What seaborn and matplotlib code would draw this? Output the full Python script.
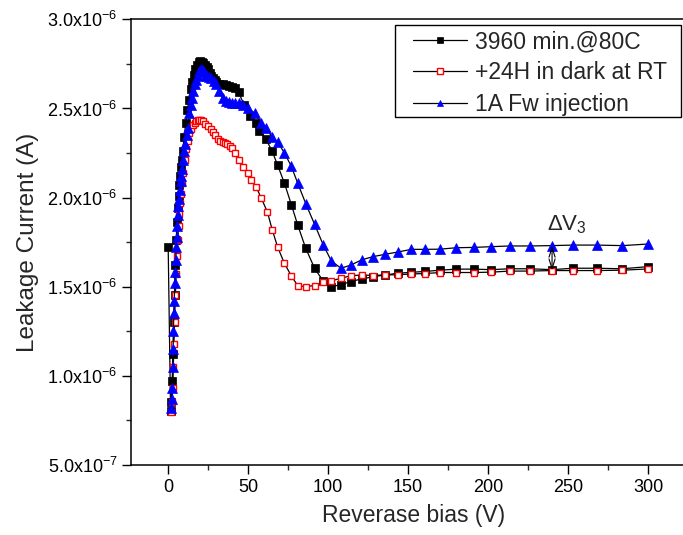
import matplotlib
matplotlib.use("Agg")
import matplotlib.pyplot as plt
import matplotlib.ticker as mticker
import matplotlib.patches as mpatches
import seaborn as sns
import numpy as np
import pandas as pd

# ---------------- data ----------------
v_black = [0, 1.5, 2.0, 2.5, 3.0, 3.5, 4.0, 4.5, 5.0, 5.5, 6.0, 6.5, 7.0, 7.5, 8.0, 8.5, 9.0,
           10, 11, 12, 13, 14, 15, 16, 17, 18, 19, 20, 21, 22, 23, 24, 25, 26, 27, 28, 29, 30,
           32, 34, 36, 38, 40, 42, 44, 47.5, 51, 55, 57, 61, 65, 68.5, 72.7, 77, 81,
           86, 91.5, 97, 102, 108, 114, 121, 128, 135.5, 143.5, 152, 160.5, 170, 180, 191,
           202, 213.5, 226, 240, 253, 268, 284, 300]
i_black = [1.72, 0.80, 0.85, 0.97, 1.12, 1.30, 1.45, 1.62, 1.76, 1.86, 1.94, 2.01, 2.07, 2.12, 2.17, 2.21, 2.26,
           2.34, 2.42, 2.49, 2.55, 2.61, 2.65, 2.69, 2.72, 2.745, 2.76, 2.765, 2.76, 2.755, 2.745, 2.735, 2.72, 2.70, 2.685, 2.67, 2.66, 2.65,
           2.64, 2.635, 2.63, 2.625, 2.62, 2.615, 2.59, 2.52, 2.46, 2.42, 2.375, 2.33, 2.26, 2.18, 2.08, 1.96, 1.845,
           1.715, 1.603, 1.53, 1.50, 1.51, 1.528, 1.543, 1.555, 1.565, 1.575, 1.58, 1.585, 1.592, 1.598, 1.598,
           1.595, 1.60, 1.60, 1.595, 1.603, 1.603, 1.60, 1.612]

v_red = [1.9, 2.4, 2.8, 3.2, 3.6, 4.0, 4.5, 5.0, 5.5, 6.0, 6.5, 7.0, 7.5, 8.1, 8.6, 9.2,
         10.2, 11.2, 12.3, 13.3, 14.4, 15.4, 16.5, 17.5, 18.5, 19.5, 20.5, 21.7, 23, 24.8,
         26.5, 28, 29.5, 31, 32.5, 34, 35.5, 37, 38.5, 40, 42, 44, 47, 50, 52, 55, 58, 62,
         65, 68.5, 72.7, 77, 81, 86, 91.5, 97, 102, 108, 114, 121, 128, 135.5, 143.5, 152,
         160.5, 170, 180, 191, 202, 213.5, 226, 240, 253, 268, 284, 300]
i_red = [0.795, 0.85, 0.93, 1.05, 1.18, 1.30, 1.45, 1.57, 1.67, 1.76, 1.84, 1.91, 1.97, 2.02, 2.08, 2.14,
         2.21, 2.27, 2.32, 2.36, 2.385, 2.405, 2.42, 2.43, 2.435, 2.437, 2.433, 2.427, 2.415, 2.40,
         2.385, 2.366, 2.35, 2.33, 2.318, 2.31, 2.305, 2.30, 2.29, 2.28, 2.25, 2.21, 2.17, 2.135, 2.10, 2.06, 2.00, 1.92,
         1.82, 1.72, 1.63, 1.56, 1.505, 1.50, 1.506, 1.523, 1.532, 1.547, 1.56, 1.566, 1.562, 1.566, 1.566, 1.571,
         1.573, 1.579, 1.579, 1.579, 1.581, 1.587, 1.587, 1.590, 1.590, 1.590, 1.592, 1.599]

v_blue = [1.9, 2.3, 2.6, 2.9, 3.1, 3.3, 3.5, 3.8, 4.1, 4.4, 4.7, 5.0, 5.3, 5.6, 6.0, 6.3, 6.7, 7.1, 7.7,
          8.1, 8.6, 9.2, 10.0, 10.8, 11.5, 12.3, 13.3, 14.2, 15.0, 15.8, 16.5, 17.5, 18.5, 19.5, 20.5,
          21.5, 22.5, 23.5, 24.5, 25.5, 27, 28.5, 30, 32, 34, 36, 38, 40, 42, 44, 47, 50, 54, 58, 61,
          65, 68.5, 72.7, 77, 81, 86, 91.5, 97, 102, 108, 114, 121, 128, 135.5, 143.5, 152, 160.5,
          170, 180, 191, 202, 213.5, 226, 240, 253, 268, 284, 300]
i_blue = [0.82, 0.87, 0.93, 1.05, 1.15, 1.25, 1.35, 1.42, 1.52, 1.58, 1.65, 1.72, 1.78, 1.84, 1.90, 1.95, 1.99, 2.04, 2.09,
          2.12, 2.16, 2.21, 2.26, 2.30, 2.35, 2.39, 2.475, 2.52, 2.56, 2.60, 2.635, 2.66, 2.68, 2.71, 2.72,
          2.715, 2.705, 2.69, 2.68, 2.675, 2.67, 2.655, 2.64, 2.60, 2.56, 2.54, 2.535, 2.53, 2.53, 2.53, 2.52, 2.50, 2.475, 2.42, 2.39,
          2.34, 2.31, 2.25, 2.175, 2.08, 1.966, 1.85, 1.733, 1.644, 1.603, 1.62, 1.65, 1.668, 1.681, 1.694, 1.709, 1.709,
          1.71, 1.718, 1.72, 1.724, 1.728, 1.728, 1.73, 1.733, 1.733, 1.73, 1.739]

labels = ["3960 min.@80C", "+24H in dark at RT", "1A Fw injection"]
x_ticks = [0, 50, 100, 150, 200, 250, 300]
y_ticks = [5.0e-7, 1.0e-6, 1.5e-6, 2.0e-6, 2.5e-6, 3.0e-6]
dv_x = 240
dv_lo, dv_hi = 1.590e-6, 1.730e-6

# ---------------- style ----------------
sns.set_style("ticks")
plt.rcParams["font.family"] = ["Liberation Sans", "DejaVu Sans"]
plt.rcParams["mathtext.fontset"] = "custom"
plt.rcParams["mathtext.rm"] = "Liberation Sans"
plt.rcParams["mathtext.it"] = "Liberation Sans:italic"
plt.rcParams["mathtext.bf"] = "Liberation Sans:bold"

W, H = 683, 535
fig = plt.figure(figsize=(W / 100, H / 100), dpi=100)
ax = fig.add_axes([131.4 / W, 70.3 / H, (696 - 131.4) / W, (464.7 - 19.4) / H])

df_b = pd.DataFrame({"V": v_black, "I": np.array(i_black) * 1e-6})
df_r = pd.DataFrame({"V": v_red, "I": np.array(i_red) * 1e-6})
df_u = pd.DataFrame({"V": v_blue, "I": np.array(i_blue) * 1e-6})

common = dict(estimator=None, sort=False, ax=ax, color="black", linewidth=0.9)
sns.lineplot(data=df_b, x="V", y="I", marker="s", markersize=5.2, markerfacecolor="black",
             markeredgecolor="black", markeredgewidth=0.5, label=labels[0], **common)
sns.lineplot(data=df_r, x="V", y="I", marker="s", markersize=5.0, markerfacecolor="white",
             markeredgecolor="red", markeredgewidth=1.0, label=labels[1], **common)
sns.lineplot(data=df_u, x="V", y="I", marker="^", markersize=6.6, markerfacecolor="blue",
             markeredgecolor="blue", markeredgewidth=0.5, label=labels[2], **common)

ax.set_xlim(-23, 330)
ax.set_ylim(5.0e-7, 3.0e-6)
ax.set_xticks(x_ticks)
ax.set_yticks(y_ticks)
ax.xaxis.set_minor_locator(mticker.MultipleLocator(25))
ax.yaxis.set_minor_locator(mticker.MultipleLocator(0.25e-6))


def fmt(v, pos):
    if v <= 0:
        return ""
    e = int(np.floor(np.log10(v) + 1e-9))
    m = v / 10 ** e
    return r"$\mathregular{%.1fx10^{%d}}$" % (m, e)


ax.yaxis.set_major_formatter(mticker.FuncFormatter(fmt))
ax.tick_params(axis="both", which="major", direction="out", length=6.5, width=1.0,
               labelsize=13, colors="black", top=False, right=False)
ax.tick_params(axis="both", which="minor", direction="out", length=3.6, width=1.0,
               top=False, right=False)
for s in ax.spines.values():
    s.set_linewidth(1.1)
    s.set_color("black")
    s.set_visible(True)

ax.set_xlabel("Reverase bias (V)", fontsize=16.5, labelpad=6)
ax.set_ylabel("Leakage Current (A)", fontsize=17.5, labelpad=6)

ax.text(237, 1.818e-6, r"$\mathregular{\Delta V_3}$", fontsize=16, ha="left", va="baseline")
ax.annotate("", xy=(dv_x, dv_hi), xytext=(dv_x, dv_lo),
            arrowprops=dict(arrowstyle="<->,head_length=0.7,head_width=0.22", lw=0.8,
                            color="black", mutation_scale=10, shrinkA=0, shrinkB=0))

# legend frame drawn as a separate rectangle (Origin-like asymmetric padding)
frame = mpatches.Rectangle((395 / W, 1 - 117 / H), (681 - 395) / W, (117 - 25) / H,
                           transform=fig.transFigure, facecolor="white", edgecolor="black",
                           linewidth=1.0, zorder=4.5, clip_on=False)
ax.add_patch(frame)
leg = ax.legend(loc="upper left", bbox_to_anchor=(413 / W, 1 - 30 / H),
                bbox_transform=fig.transFigure, borderaxespad=0, frameon=False,
                fontsize=16.5, handlelength=2.36, handletextpad=0.35,
                labelspacing=0.37, borderpad=0, markerscale=0.75)
leg.set_zorder(5)

fig.savefig("out.png", dpi=100)
